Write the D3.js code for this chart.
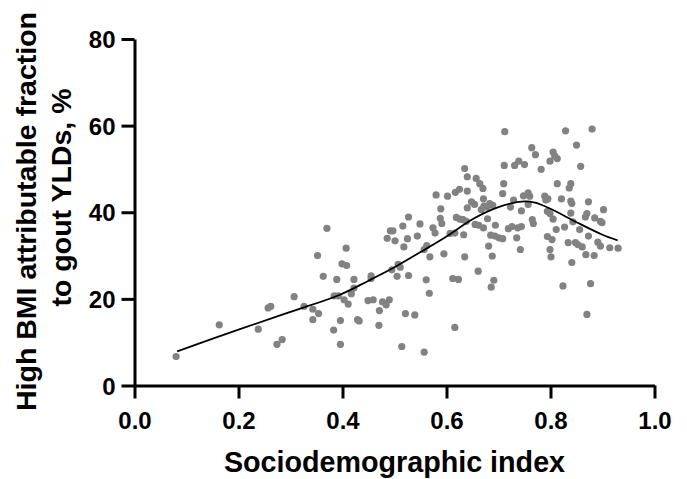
<!DOCTYPE html>
<html>
<head>
<meta charset="utf-8">
<script src="https://cdn.jsdelivr.net/npm/d3@7"></script>
<style>
  html, body { margin: 0; padding: 0; background: #fff; }
  svg { display: block; }
  text { font-family: "Liberation Sans", Arial, Helvetica, sans-serif; font-weight: bold; }
</style>
</head>
<body>
<svg id="chart" width="687" height="479"></svg>
<script>
// ---- Data ----
const sdi = [
  0.080, 0.163, 0.238, 0.257, 0.262, 0.274, 0.284, 0.307, 0.326, 0.343, 0.354, 0.343,
  0.352, 0.370, 0.363, 0.383, 0.389, 0.384, 0.392, 0.396, 0.396, 0.399, 0.408, 0.407,
  0.403, 0.411, 0.417, 0.422, 0.422, 0.429, 0.432, 0.449, 0.459, 0.455, 0.455, 0.470,
  0.471, 0.477, 0.484, 0.490, 0.486, 0.492, 0.497, 0.501, 0.495, 0.505, 0.507, 0.511,
  0.514, 0.516, 0.518, 0.521, 0.525, 0.527, 0.527, 0.539, 0.544, 0.549, 0.557, 0.557,
  0.562, 0.561, 0.567, 0.568, 0.574, 0.578, 0.580, 0.589, 0.588, 0.591, 0.595, 0.602,
  0.607, 0.612, 0.623, 0.616, 0.617, 0.625, 0.619, 0.626, 0.632, 0.638, 0.616, 0.633,
  0.635, 0.635, 0.640, 0.640, 0.640, 0.648, 0.654, 0.657, 0.661, 0.664, 0.670, 0.671,
  0.667, 0.672, 0.678, 0.655, 0.662, 0.671, 0.679, 0.683, 0.689, 0.681, 0.685, 0.693,
  0.686, 0.688, 0.691, 0.694, 0.701, 0.708, 0.708, 0.710, 0.712, 0.711, 0.719, 0.726,
  0.723, 0.729, 0.731, 0.739, 0.750, 0.735, 0.737, 0.744, 0.742, 0.744, 0.748, 0.757,
  0.760, 0.757, 0.764, 0.771, 0.765, 0.767, 0.782, 0.789, 0.791, 0.795, 0.794, 0.799,
  0.794, 0.803, 0.799, 0.801, 0.799, 0.805, 0.808, 0.813, 0.805, 0.811, 0.813, 0.821,
  0.824, 0.827, 0.829, 0.834, 0.836, 0.839, 0.839, 0.841, 0.839, 0.841, 0.843, 0.850,
  0.848, 0.853, 0.856, 0.858, 0.861, 0.867, 0.870, 0.868, 0.870, 0.873, 0.873, 0.877,
  0.880, 0.884, 0.885, 0.896, 0.899, 0.891, 0.896, 0.902, 0.914, 0.930
];
const fraction = [
  6.7, 14.0, 13.0, 17.9, 18.3, 9.5, 10.6, 20.5, 18.3, 17.6, 16.6, 15.2,
  30.0, 36.3, 25.2, 12.8, 24.5, 20.7, 20.7, 15.0, 9.5, 28.1, 27.7, 31.7,
  19.8, 18.8, 21.2, 24.5, 22.5, 15.2, 14.9, 19.6, 19.8, 25.3, 24.7, 13.9,
  17.3, 19.3, 18.6, 19.8, 34.0, 35.7, 35.7, 33.4, 26.7, 25.2, 28.0, 27.3,
  9.0, 36.8, 32.0, 16.6, 33.9, 25.4, 38.9, 16.3, 34.5, 37.3, 7.7, 31.4,
  32.3, 24.4, 21.3, 29.7, 36.4, 35.2, 44.0, 40.8, 38.6, 37.4, 30.4, 43.7,
  35.1, 24.7, 24.5, 13.4, 44.6, 45.3, 38.8, 38.4, 38.3, 37.9, 35.2, 34.8,
  29.7, 50.1, 48.2, 44.9, 41.0, 42.4, 41.8, 47.8, 26.4, 46.6, 45.5, 43.1,
  40.6, 41.4, 41.2, 37.2, 37.0, 36.4, 38.5, 42.0, 41.6, 32.2, 34.7, 34.5,
  22.7, 29.9, 24.3, 37.0, 34.1, 33.9, 44.3, 46.6, 58.6, 50.8, 36.2, 36.7,
  41.2, 42.8, 50.8, 51.8, 51.0, 34.1, 36.4, 36.7, 31.4, 40.3, 43.8, 44.5,
  43.7, 41.8, 54.9, 53.3, 38.3, 37.4, 49.9, 43.7, 42.8, 43.1, 40.2, 39.7,
  34.4, 33.7, 31.4, 29.7, 51.8, 53.9, 53.0, 52.4, 38.4, 36.0, 46.6, 43.1,
  23.0, 36.6, 58.8, 33.0, 45.6, 46.6, 42.6, 42.0, 39.8, 28.4, 37.8, 55.5,
  33.0, 32.5, 36.0, 50.6, 32.0, 38.9, 39.7, 30.2, 16.4, 42.4, 34.5, 23.5,
  59.2, 30.0, 38.7, 37.9, 37.6, 33.1, 32.2, 40.6, 31.8, 31.7
];
// Fitted curve (smoothed trend line)
const curveX = [0.082, 0.20, 0.30, 0.394, 0.45, 0.50, 0.55, 0.60, 0.65, 0.70, 0.75, 0.77, 0.80, 0.85, 0.90, 0.929];
const curveY = [7.9, 12.9, 17.0, 20.9, 24.2, 27.3, 30.8, 34.4, 38.4, 41.2, 42.5, 42.2, 40.8, 37.7, 34.8, 33.5];

const xTicks = [0.0, 0.2, 0.4, 0.6, 0.8, 1.0];
const yTicks = [0, 20, 40, 60, 80];

const xTitle = "Sociodemographic index";
const yTitleLines = ["High BMI attributable fraction", "to gout YLDs, %"];

// ---- Chart ----
const svg = d3.select("#chart");
const x = d3.scaleLinear().domain([0, 1]).range([134.5, 654.5]);
const y = d3.scaleLinear().domain([0, 80]).range([385.5, 39]);

// points
svg.append("g")
  .selectAll("circle")
  .data(sdi.map((d, i) => [d, fraction[i]]))
  .join("circle")
  .attr("cx", d => x(d[0]))
  .attr("cy", d => y(d[1]))
  .attr("r", 3.6)
  .attr("fill", "#828282");

// curve
svg.append("path")
  .datum(curveX.map((d, i) => [d, curveY[i]]))
  .attr("fill", "none")
  .attr("stroke", "#000")
  .attr("stroke-width", 1.8)
  .attr("d", d3.line().x(d => x(d[0])).y(d => y(d[1])).curve(d3.curveCatmullRom.alpha(0.5)));

// x axis
const gx = svg.append("g")
  .attr("transform", `translate(0,${y(0)})`)
  .call(d3.axisBottom(x).tickValues(xTicks).tickFormat(d3.format(".1f")).tickSize(13).tickSizeOuter(0));
gx.select(".domain").attr("stroke", "#000").attr("stroke-width", 3);
gx.selectAll(".tick line").attr("stroke", "#000").attr("stroke-width", 3);
gx.selectAll(".tick text").attr("y", 43).attr("dy", 0).attr("fill", "#000")
  .style("font-size", "24px");

// y axis
const gy = svg.append("g")
  .attr("transform", `translate(${x(0)},0)`)
  .call(d3.axisLeft(y).tickValues(yTicks).tickFormat(d3.format("d")).tickSize(13).tickSizeOuter(0));
gy.select(".domain").attr("stroke", "#000").attr("stroke-width", 3);
gy.selectAll(".tick line").attr("stroke", "#000").attr("stroke-width", 3);
gy.selectAll(".tick text").attr("x", -19).attr("dy", "0.36em").attr("fill", "#000")
  .style("font-size", "24px");

// titles
svg.append("text")
  .attr("x", 394.5)
  .attr("y", 472)
  .attr("text-anchor", "middle")
  .style("font-size", "28.7px")
  .text(xTitle);

const yt = svg.append("text")
  .attr("transform", "translate(36,0) rotate(-90)")
  .attr("text-anchor", "middle")
  .style("font-size", "28.5px");
yTitleLines.forEach((t, i) => {
  yt.append("tspan").attr("x", i === 0 ? -211.5 : -197.5).attr("y", i * 35).text(t);
});
</script>
</body>
</html>
